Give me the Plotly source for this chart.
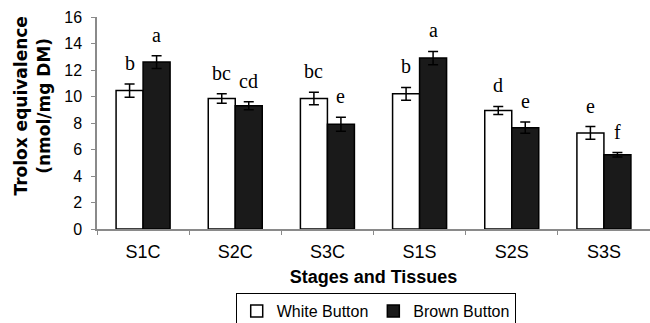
import plotly.graph_objects as go

categories = ["S1C", "S2C", "S3C", "S1S", "S2S", "S3S"]
white_vals = [10.45, 9.85, 9.85, 10.2, 8.95, 7.25]
white_err = [0.5, 0.36, 0.48, 0.48, 0.3, 0.48]
brown_vals = [12.6, 9.3, 7.9, 12.9, 7.65, 5.6]
brown_err = [0.48, 0.3, 0.53, 0.5, 0.43, 0.17]
white_letters = ["b", "bc", "bc", "b", "d", "e"]
brown_letters = ["a", "cd", "e", "a", "e", "f"]

fig = go.Figure()
fig.add_trace(go.Bar(
    name="White Button", x=categories, y=white_vals,
    marker=dict(color="white", line=dict(color="black", width=1.5)),
    error_y=dict(type="data", array=white_err, color="black", thickness=1.5, width=5),
))
fig.add_trace(go.Bar(
    name="Brown Button", x=categories, y=brown_vals,
    marker=dict(color="#1a1a1a", line=dict(color="black", width=1.5)),
    error_y=dict(type="data", array=brown_err, color="black", thickness=1.5, width=5),
))

bar_px = 13.5
for i, c in enumerate(categories):
    for letters, vals, errs, shift in ((white_letters, white_vals, white_err, -bar_px),
                                        (brown_letters, brown_vals, brown_err, bar_px)):
        fig.add_annotation(
            x=c, y=vals[i] + errs[i], text=letters[i], showarrow=False,
            xshift=shift, yshift=8, yanchor="bottom",
            font=dict(family="Liberation Serif", size=20, color="black"),
        )

# y-axis title (placed slightly above the plot centre, as in the original)
fig.add_annotation(
    text="<b>Trolox equivalence<br>(nmol/mg DM)</b>", textangle=-90,
    xref="paper", yref="paper", x=-0.1166, y=0.58, showarrow=False,
    xanchor="center", yanchor="middle",
    font=dict(family="DejaVu Sans", size=17, color="black"),
)

fig.update_layout(
    template="none",
    width=650, height=323,
    margin=dict(l=97, r=0, t=17, b=94, autoexpand=False),
    paper_bgcolor="white", plot_bgcolor="white",
    barmode="group", bargap=0.414, bargroupgap=0,
    font=dict(family="Liberation Sans", size=15, color="black"),
    showlegend=True,
    legend=dict(
        orientation="h", x=0.504, xref="paper", xanchor="center",
        yref="container", y=1 - 293 / 323, yanchor="top",
        bordercolor="black", borderwidth=1, bgcolor="white",
        font=dict(family="Liberation Sans", size=16, color="black"),
        itemwidth=30, tracegroupgap=0,
    ),
)
fig.update_xaxes(
    automargin=False,
    showline=True, linecolor="#8a8a8a", linewidth=1.5,
    ticks="outside", tickson="boundaries", ticklen=4, tickcolor="#8a8a8a",
    showgrid=False, zeroline=False,
    ticklabelstandoff=6,
    title=dict(text="<b>Stages and Tissues</b>", standoff=9,
               font=dict(family="Liberation Sans", size=18)),
    tickfont=dict(size=18),
)
fig.update_yaxes(
    automargin=False,
    range=[0, 16], dtick=2, showline=True, linecolor="#8a8a8a", linewidth=1.5,
    ticks="outside", ticklen=4, tickcolor="#8a8a8a", showgrid=False, zeroline=False,
    ticklabelstandoff=6,
    tickfont=dict(size=16),
)

fig.write_html("out.html")
